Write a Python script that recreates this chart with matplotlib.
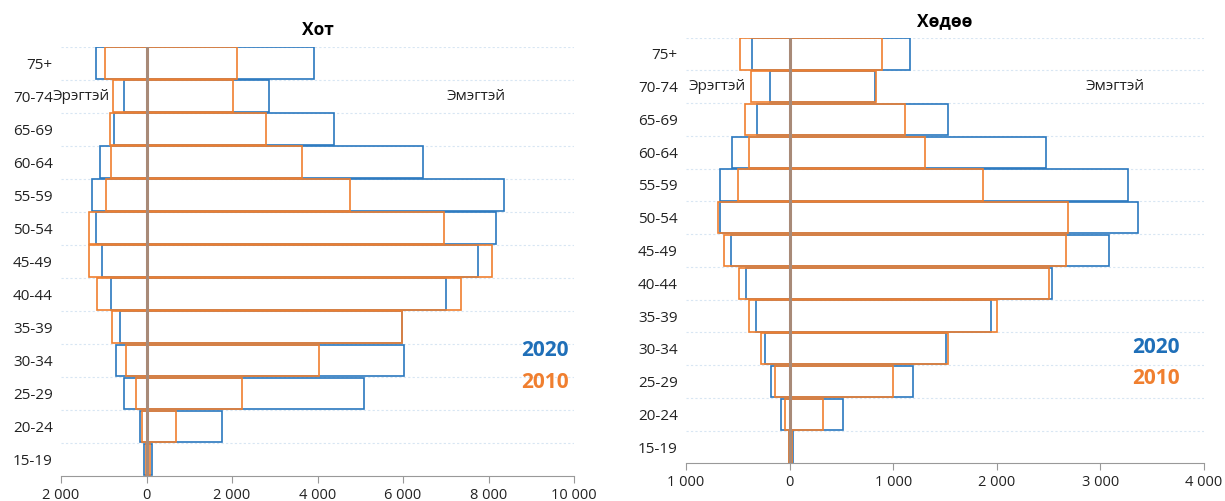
import matplotlib.pyplot as plt
from matplotlib.ticker import FuncFormatter, FixedLocator

plt.rcParams['font.family'] = ['Open Sans', 'DejaVu Sans']

ages = ['15-19', '20-24', '25-29', '30-34', '35-39', '40-44', '45-49',
        '50-54', '55-59', '60-64', '65-69', '70-74', '75+']

# Хот (city)
hot_male_2020 = [55, 160, 530, 710, 625, 820, 1040, 1170, 1280, 1095, 760, 535, 1180]
hot_female_2020 = [130, 1770, 5080, 6030, 5970, 7010, 7750, 8180, 8360, 6460, 4390, 2870, 3920]
hot_male_2010 = [20, 100, 250, 470, 800, 1160, 1340, 1340, 940, 840, 855, 780, 975]
hot_female_2010 = [70, 680, 2240, 4040, 5985, 7360, 8070, 6960, 4750, 3630, 2805, 2020, 2110]

# Хөдөө (countryside)
hod_male_2020 = [10, 80, 175, 240, 320, 420, 570, 670, 670, 560, 310, 190, 366]
hod_female_2020 = [35, 520, 1190, 1510, 1940, 2530, 3080, 3360, 3270, 2470, 1530, 825, 1160]
hod_male_2010 = [8, 40, 140, 280, 390, 485, 630, 690, 500, 390, 430, 370, 478]
hod_female_2010 = [20, 325, 1000, 1530, 2000, 2500, 2670, 2690, 1870, 1310, 1110, 830, 888]

BLUE = '#2a78bf'
ORANGE = '#f07f2f'
ZERO = '#a88a78'


def fmt(v, pos):
    v = abs(int(round(v)))
    return f'{v:,}'.replace(',', ' ')


def pyramid(ax, title, m20, f20, m10, f10, xlim, step, label_x, year_x, year_y):
    y = list(range(len(ages)))
    h = 0.96
    ax.barh(y, [-v for v in m20], height=h, facecolor='none', edgecolor=BLUE, linewidth=1.2, zorder=2)
    ax.barh(y, f20, height=h, facecolor='none', edgecolor=BLUE, linewidth=1.2, zorder=2)
    ax.barh(y, [-v for v in m10], height=h, facecolor='none', edgecolor=ORANGE, linewidth=1.2, zorder=3)
    ax.barh(y, f10, height=h, facecolor='none', edgecolor=ORANGE, linewidth=1.2, zorder=3)
    ax.axvline(0, color=ZERO, linewidth=2.2, zorder=4)

    ax.set_xlim(*xlim)
    ax.set_ylim(-0.5, len(ages) - 0.5)
    ax.set_yticks(y)
    ax.set_yticklabels(ages, fontsize=11, color='#222222')
    ax.yaxis.set_minor_locator(FixedLocator([i + 0.5 for i in range(len(ages))]))
    ax.grid(which='minor', axis='y', color='#d8e6f3', linestyle=(0, (2, 2)), linewidth=0.8, zorder=0)
    ax.tick_params(axis='y', which='both', length=0, pad=6)
    ax.set_xticks(range(xlim[0], xlim[1] + 1, step))
    ax.xaxis.set_major_formatter(FuncFormatter(fmt))
    ax.tick_params(axis='x', direction='out', length=5, color='#999999', labelsize=10.5, labelcolor='#222222')
    for s in ['top', 'right', 'left']:
        ax.spines[s].set_visible(False)
    ax.spines['bottom'].set_color('#999999')
    ax.set_title(title, fontsize=12.5, fontweight='bold', pad=8)

    ax.text(label_x[0], 11, 'Эрэгтэй', ha='center', va='center', fontsize=11, color='#222222')
    ax.text(label_x[1], 11, 'Эмэгтэй', ha='center', va='center', fontsize=11, color='#222222')
    ax.text(year_x, year_y[0], '2020', ha='center', va='center', fontsize=15, fontweight='bold', color='#1f6fb8')
    ax.text(year_x, year_y[1], '2010', ha='center', va='center', fontsize=15, fontweight='bold', color=ORANGE)


fig = plt.figure(figsize=(12.25, 5.01), dpi=100)
ax1 = fig.add_axes([0.0498, 0.050, 0.4188, 0.857])
ax2 = fig.add_axes([0.560, 0.075, 0.4229, 0.850])

pyramid(ax1, 'Хот', hot_male_2020, hot_female_2020, hot_male_2010, hot_female_2010,
        (-2000, 10000), 2000, (-1520, 7700), 9310, (3.3, 2.33))
pyramid(ax2, 'Хөдөө', hod_male_2020, hod_female_2020, hod_male_2010, hod_female_2010,
        (-1000, 4000), 1000, (-695, 3137), 3540, (3.05, 2.1))

plt.savefig('out.png', dpi=100)
